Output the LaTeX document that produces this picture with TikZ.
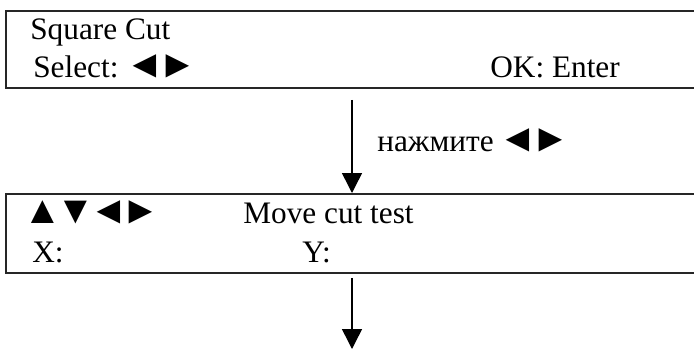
\documentclass[tikz,border=0pt]{standalone}
\usepackage{fontspec}
\setmainfont{Liberation Serif}
\usetikzlibrary{arrows.meta,positioning}
\newcommand{\keytri}[1]{\makebox[1.05em]{\scalebox{1.25}{#1}}}

\begin{document}
\begin{tikzpicture}[
    >={Triangle[length=0.4cm, width=0.4cm]},
    screen/.style={draw=black!85, line width=1pt, rectangle, inner sep=0pt,
       minimum width=15cm, minimum height=1.54cm, anchor=north west},
    lcd/.style={font=\fontsize{17.8}{21}\selectfont, inner sep=0pt, anchor=base west},
    flow/.style={line width=0.85pt, ->}
  ]
    \path[use as bounding box, clip] (0,0) rectangle (13.88,7);

    % Display screens (cut off on the right)
    \node[screen] (sqcut)   at (0.1, 6.8)  {};
    \node[screen, minimum height=1.58cm] (movecut) at (0.1, 3.14) {};

    % First screen
    \node[lcd] (title1) at (0.6, 6.22)  {Square Cut};
    \node[lcd] (sel)    at (0.66, 5.46) {Select: \keytri{◄}\keytri{►}};
    \node[lcd] (ok)     at (9.8, 5.46)  {OK: Enter};

    % Second screen
    \node[lcd] (keys)   at (0.52, 2.54) {\keytri{▲}\keytri{▼}\keytri{◄}\keytri{►}};
    \node[lcd] (title2) at (4.86, 2.54) {Move cut test};
    \node[lcd] (xval)   at (0.64, 1.76) {X:};
    \node[lcd] (yval)   at (6.04, 1.76) {Y:};

    % Transitions
    \coordinate (axis) at (7.04, 0);
    \coordinate (next) at (7.04, 0.02);
    \draw[flow, shorten <=0.22cm] (sqcut.south -| axis) -- (movecut.north -| axis);
    \node[lcd] (press) at (7.54, 3.98) {нажмите \keytri{◄}\keytri{►}};
    \draw[flow, shorten <=0.08cm] (movecut.south -| axis) -- (next);
  \end{tikzpicture}
\end{document}
